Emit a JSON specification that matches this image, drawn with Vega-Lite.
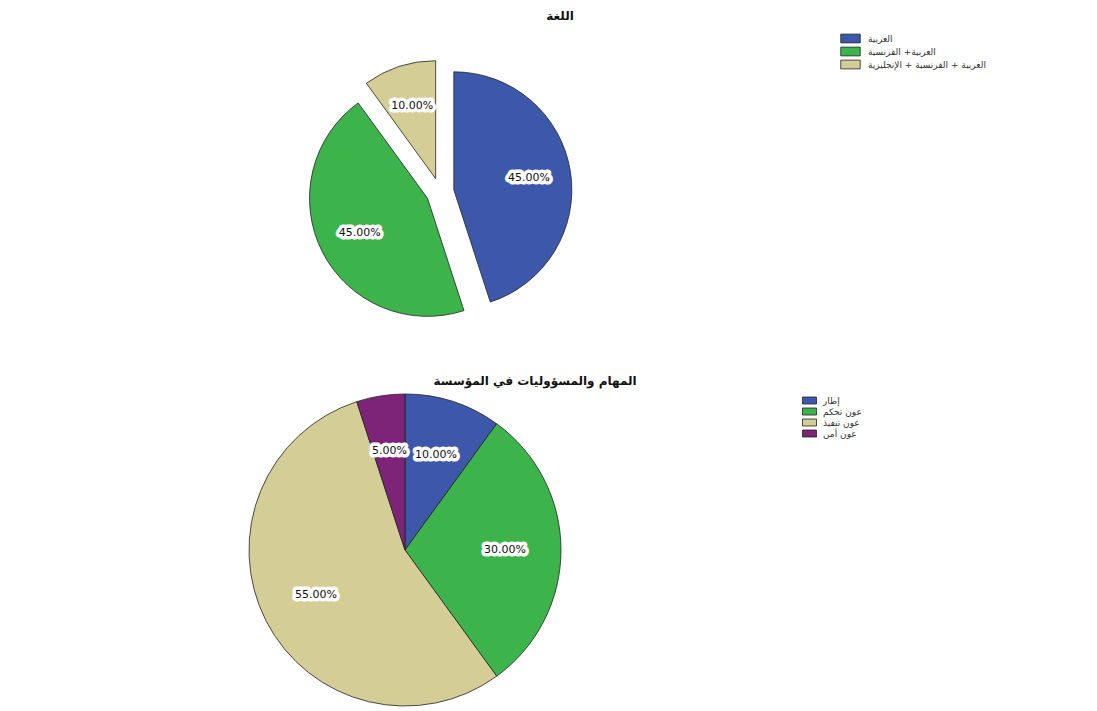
{
  "$schema": "https://vega.github.io/schema/vega-lite/v6.json",
  "background": "white",
  "padding": {"top": 10, "left": 5, "right": 5, "bottom": 5},
  "spacing": 18,
  "config": {"view": {"stroke": null}, "font": "DejaVu Sans"},
  "resolve": {"scale": {"color": "independent", "theta": "independent"}, "legend": {"color": "independent"}},
  "vconcat": [
    {
      "width": 870,
      "height": 330,
      "title": {"text": "اللغة", "anchor": "middle", "dx": 120, "fontSize": 12, "fontWeight": "bold", "font": "DejaVu Sans", "color": "#111"},
      "data": {"values": [
        {"lang": "العربية", "pct": 45, "k": 1, "lbl": "45.00%"},
        {"lang": "العربية+ الفرنسية", "pct": 45, "k": 2, "lbl": "45.00%"},
        {"lang": "العربية + الفرنسية + الإنجليزية", "pct": 10, "k": 3, "lbl": "10.00%"}
      ]},
      "encoding": {
        "theta": {"field": "pct", "type": "quantitative", "stack": true},
        "order": {"field": "k", "type": "quantitative"}
      },
      "layer": [
        {
          "mark": {"type": "arc", "outerRadius": 118, "stroke": "#222", "strokeWidth": 0.8,
            "xOffset": {"expr": "14*sin(PI*(datum.pct_start+datum.pct_end)/100)"},
            "yOffset": {"expr": "-14*cos(PI*(datum.pct_start+datum.pct_end)/100)"}},
          "encoding": {
            "color": {"field": "lang", "type": "nominal",
              "scale": {"domain": ["العربية", "العربية+ الفرنسية", "العربية + الفرنسية + الإنجليزية"], "range": ["#3D58AB", "#3CB44B", "#D4CE96"]},
              "legend": {"title": null, "orient": "none", "legendX": 840, "legendY": 6, "symbolType": "M-2,-0.9H2V0.9H-2Z", "symbolSize": 95, "symbolStrokeColor": "#222", "symbolStrokeWidth": 0.8, "symbolOpacity": 1, "labelFontSize": 9, "labelFont": "DejaVu Sans", "labelColor": "#333", "rowPadding": 0, "labelOffset": 12}
            }
          }
        },
        {
          "mark": {"type": "text", "radius": 76, "fontSize": 11, "stroke": "white", "strokeWidth": 7, "strokeJoin": "round", "fill": "white",
            "xOffset": {"expr": "14*sin(PI*(datum.pct_start+datum.pct_end)/100)"},
            "yOffset": {"expr": "-14*cos(PI*(datum.pct_start+datum.pct_end)/100)"}},
          "encoding": {"text": {"field": "lbl"}}
        },
        {
          "mark": {"type": "text", "radius": 76, "fontSize": 11, "fill": "#111",
            "xOffset": {"expr": "14*sin(PI*(datum.pct_start+datum.pct_end)/100)"},
            "yOffset": {"expr": "-14*cos(PI*(datum.pct_start+datum.pct_end)/100)"}},
          "encoding": {"text": {"field": "lbl"}}
        }
      ]
    },
    {
      "width": 800,
      "height": 312,
      "title": {"text": "المهام والمسؤوليات في المؤسسة", "anchor": "middle", "dx": 130, "fontSize": 12, "fontWeight": "bold", "font": "DejaVu Sans", "color": "#111"},
      "data": {"values": [
        {"role": "إطار", "pct": 10, "k": 1, "lbl": "10.00%"},
        {"role": "عون تحكم", "pct": 30, "k": 2, "lbl": "30.00%"},
        {"role": "عون تنفيذ", "pct": 55, "k": 3, "lbl": "55.00%"},
        {"role": "عون أمن", "pct": 5, "k": 4, "lbl": "5.00%"}
      ]},
      "encoding": {
        "theta": {"field": "pct", "type": "quantitative", "stack": true},
        "order": {"field": "k", "type": "quantitative"}
      },
      "layer": [
        {
          "mark": {"type": "arc", "outerRadius": 156, "stroke": "#222", "strokeWidth": 0.8},
          "encoding": {
            "color": {"field": "role", "type": "nominal",
              "scale": {"domain": ["إطار", "عون تحكم", "عون تنفيذ", "عون أمن"], "range": ["#3D58AB", "#3CB44B", "#D4CE96", "#7D2478"]},
              "legend": {"title": null, "orient": "none", "legendX": 800, "legendY": 2, "symbolType": "M-2,-1H2V1H-2Z", "symbolSize": 49, "symbolStrokeColor": "#222", "symbolStrokeWidth": 0.8, "symbolOpacity": 1, "labelFontSize": 9, "labelFont": "DejaVu Sans", "labelColor": "#333", "rowPadding": 0, "labelOffset": 9}
            }
          }
        },
        {
          "mark": {"type": "text", "radius": 100, "fontSize": 11, "stroke": "white", "strokeWidth": 7, "strokeJoin": "round", "fill": "white"},
          "encoding": {"text": {"field": "lbl"}}
        },
        {
          "mark": {"type": "text", "radius": 100, "fontSize": 11, "fill": "#111"},
          "encoding": {"text": {"field": "lbl"}}
        }
      ]
    }
  ]
}
